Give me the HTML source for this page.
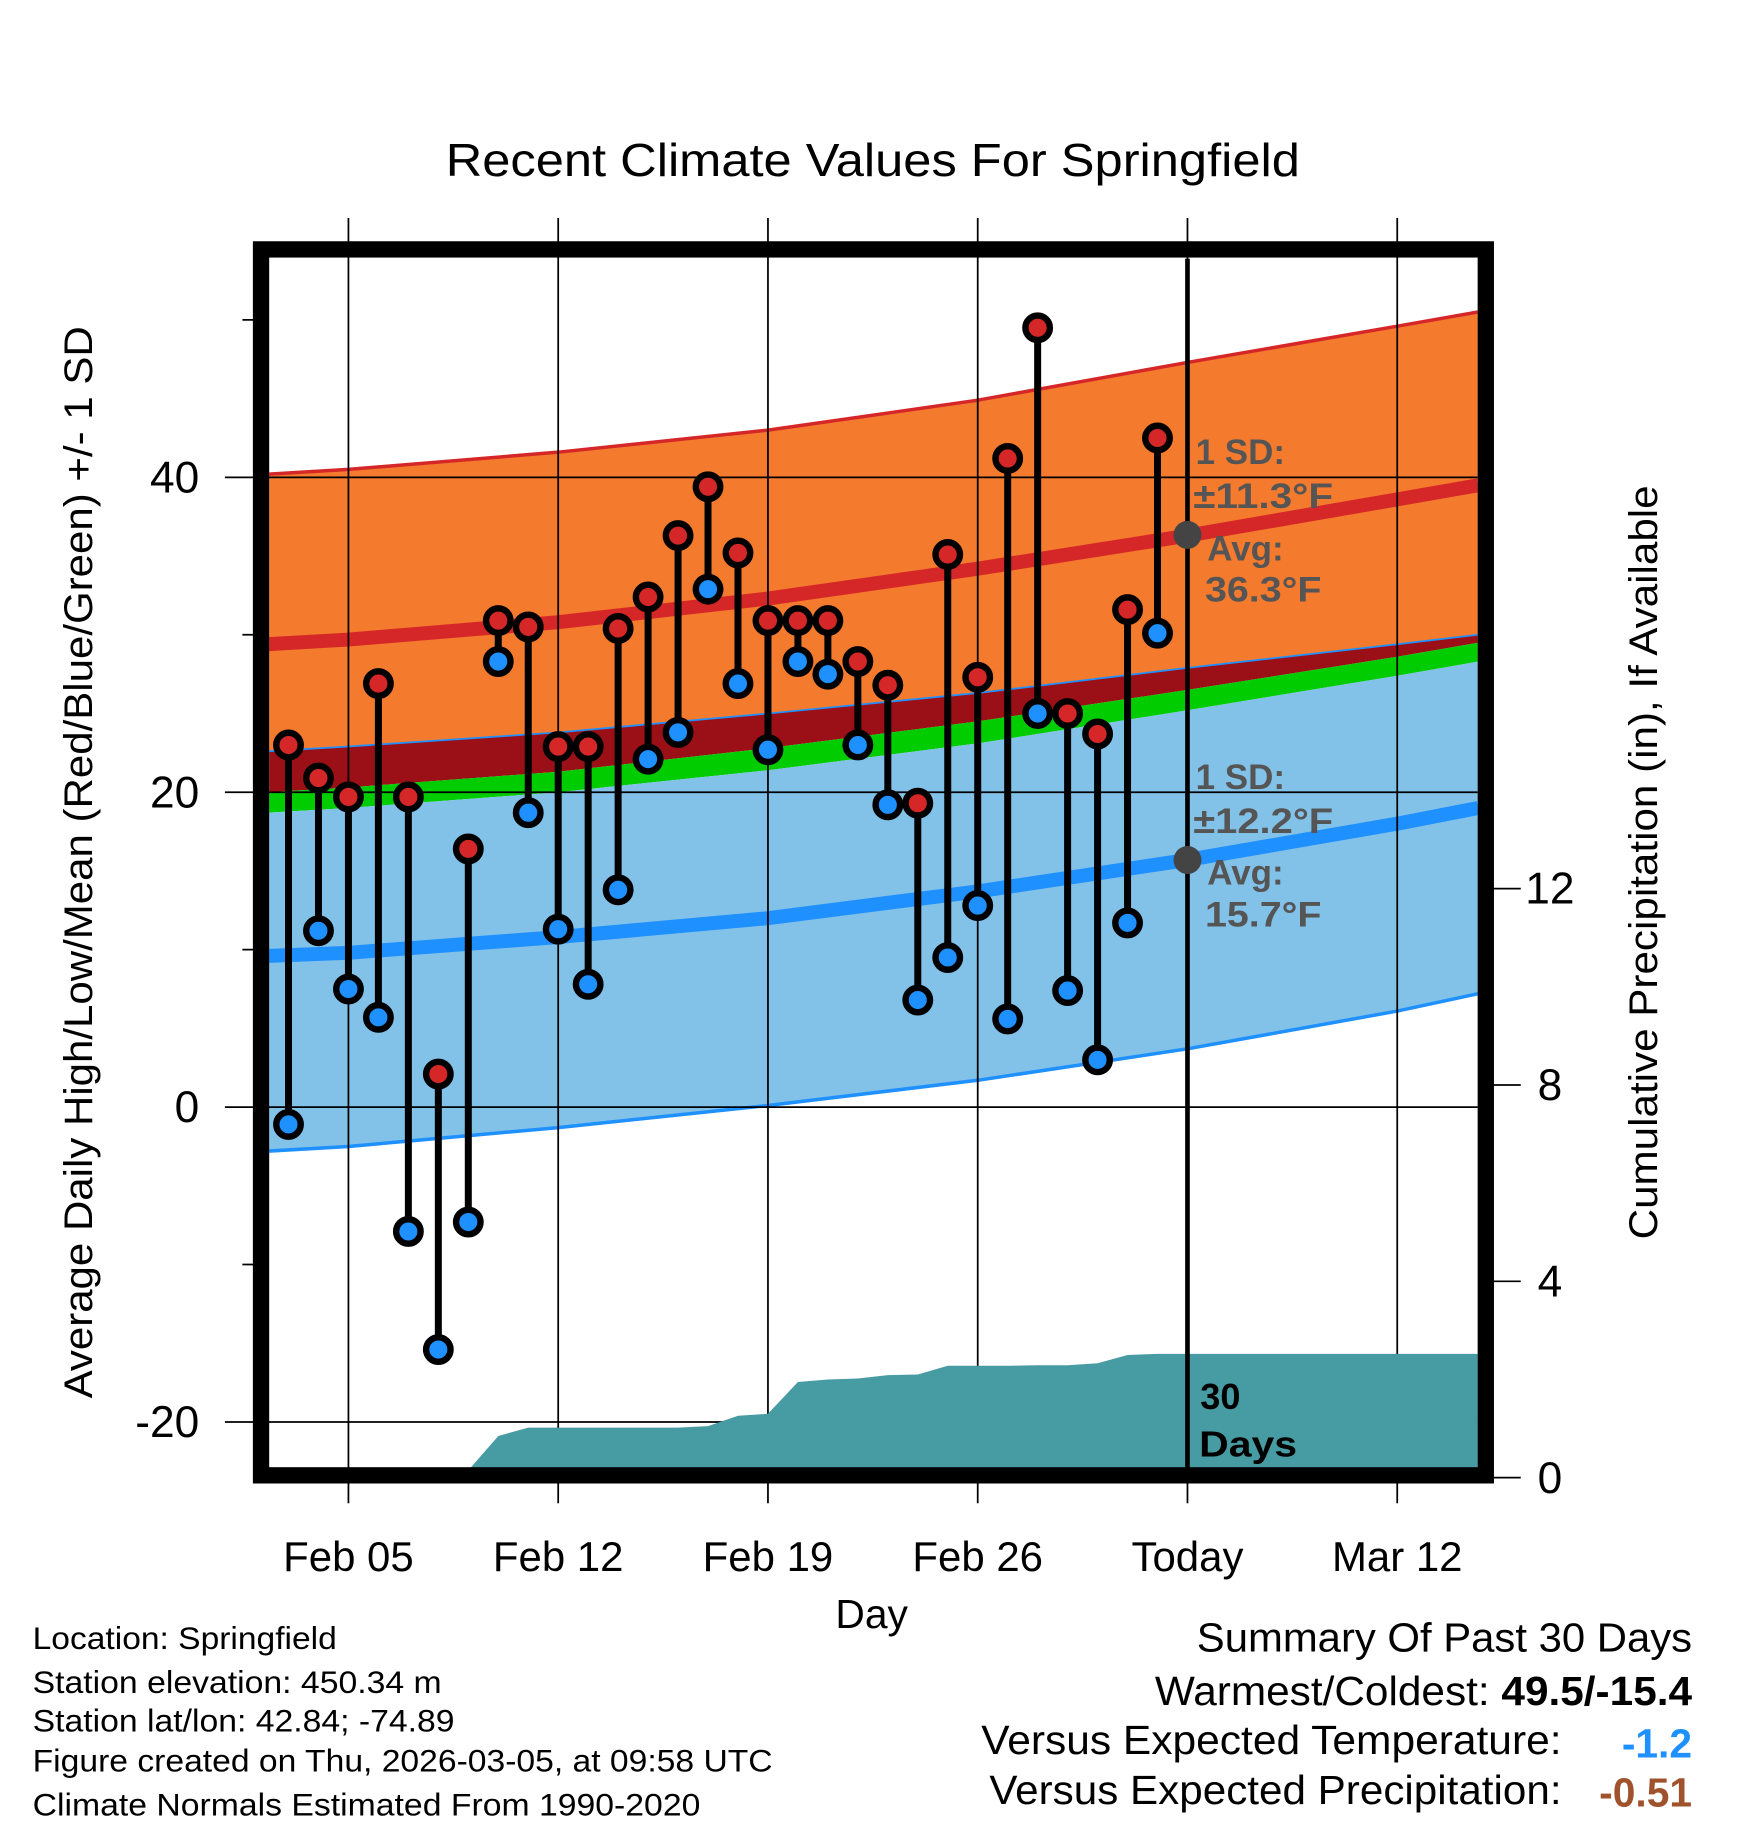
<!DOCTYPE html>
<html><head><meta charset="utf-8"><style>html,body{margin:0;padding:0;background:#fff}svg{display:block}text{font-family:"Liberation Sans",Arial,sans-serif}</style></head>
<body>
<svg id="chart" width="1748" height="1828" viewBox="0 0 1500 1568.6" xmlns="http://www.w3.org/2000/svg">
<defs><clipPath id="plotclip"><rect x="231" y="222" width="1037" height="1038"/></clipPath></defs>
<text x="749" y="151" font-size="40" text-anchor="middle" textLength="733" lengthAdjust="spacingAndGlyphs">Recent Climate Values For Springfield</text>
<g id="bands" clip-path="url(#plotclip)"></g>
<g id="grid"></g>
<g id="precip" clip-path="url(#plotclip)"></g>
<rect x="224" y="214" width="1051" height="1052" fill="none" stroke="#000" stroke-width="14"/>
<line x1="1019" y1="222" x2="1019" y2="1260" stroke="#000" stroke-width="4"/>
<g id="marks"></g>
<g font-weight="bold" font-size="30" fill="#555">
<text x="1026" y="398">1 SD:</text>
<text x="1024" y="436" textLength="120" lengthAdjust="spacingAndGlyphs">±11.3°F</text>
<text x="1036" y="481">Avg:</text>
<text x="1034" y="516" textLength="100" lengthAdjust="spacingAndGlyphs">36.3°F</text>
<text x="1026" y="677">1 SD:</text>
<text x="1024" y="715" textLength="120" lengthAdjust="spacingAndGlyphs">±12.2°F</text>
<text x="1036" y="759">Avg:</text>
<text x="1034" y="795" textLength="100" lengthAdjust="spacingAndGlyphs">15.7°F</text>
</g>
<circle cx="1019" cy="459" r="12" fill="#444"/>
<circle cx="1019" cy="738" r="12" fill="#444"/>
<text x="1030" y="1209" font-size="31" font-weight="bold">30</text>
<text x="1029" y="1250" font-size="31" font-weight="bold" textLength="84" lengthAdjust="spacingAndGlyphs">Days</text>
<text transform="translate(79,740) rotate(-90)" font-size="34" text-anchor="middle" textLength="920" lengthAdjust="spacingAndGlyphs">Average Daily High/Low/Mean (Red/Blue/Green) +/- 1 SD</text>
<text transform="translate(1422,740) rotate(-90)" font-size="34" text-anchor="middle" textLength="647" lengthAdjust="spacingAndGlyphs">Cumulative Precipitation (in), If Available</text>
<text x="748" y="1397" font-size="35" text-anchor="middle">Day</text>
<g font-size="27">
<text x="28" y="1415" textLength="261" lengthAdjust="spacingAndGlyphs">Location: Springfield</text>
<text x="28" y="1453" textLength="351" lengthAdjust="spacingAndGlyphs">Station elevation: 450.34 m</text>
<text x="28" y="1486" textLength="362" lengthAdjust="spacingAndGlyphs">Station lat/lon: 42.84; -74.89</text>
<text x="28" y="1520" textLength="635" lengthAdjust="spacingAndGlyphs">Figure created on Thu, 2026-03-05, at 09:58 UTC</text>
<text x="28" y="1558" textLength="573" lengthAdjust="spacingAndGlyphs">Climate Normals Estimated From 1990-2020</text>
</g>
<g font-size="35">
<text x="1452" y="1417" text-anchor="end" textLength="425" lengthAdjust="spacingAndGlyphs">Summary Of Past 30 Days</text>
<text x="1452" y="1463" text-anchor="end" textLength="461" lengthAdjust="spacingAndGlyphs">Warmest/Coldest: <tspan font-weight="bold">49.5/-15.4</tspan></text>
<text x="1340" y="1505" text-anchor="end" textLength="498" lengthAdjust="spacingAndGlyphs">Versus Expected Temperature:</text>
<text x="1452" y="1508" text-anchor="end" font-weight="bold" fill="#1e90ff">-1.2</text>
<text x="1340" y="1548" text-anchor="end" textLength="491" lengthAdjust="spacingAndGlyphs">Versus Expected Precipitation:</text>
<text x="1452" y="1550" text-anchor="end" font-weight="bold" fill="#a0522d">-0.51</text>
</g>
</svg>
<script>
const normDays=[2.3,5,12,19,26,33,40,42.7];
const hiUpper=[40.2,40.5,41.6,43.0,44.9,47.3,49.6,50.5];
const hiAvg=[29.4,29.7,30.8,32.3,34.2,36.3,38.6,39.5];
const darkTop=[22.6,22.9,23.8,25.0,26.3,27.9,29.4,30.0];
const greenTop=[20.0,20.3,21.3,22.8,24.5,26.5,28.6,29.5];
const blueTop=[18.7,19.0,20.0,21.4,23.1,25.2,27.4,28.3];
const loAvg=[9.6,9.8,10.8,12.0,13.7,15.7,18.0,19.0];
const loLower=[-2.8,-2.5,-1.3,0.1,1.7,3.7,6.1,7.2];
const days=[3,4,5,6,7,8,9,10,11,12,13,14,15,16,17,18,19,20,21,22,23,24,25,26,27,28,29,30,31,32];
const highs=[23.0,20.9,19.7,26.9,19.7,2.1,16.4,30.9,30.5,22.9,22.9,30.4,32.4,36.3,39.4,35.2,30.9,30.9,30.9,28.3,26.8,19.3,35.1,27.3,41.2,49.5,25.0,23.7,31.6,42.5];
const lows=[-1.1,11.2,7.5,5.7,-7.9,-15.4,-7.3,28.3,18.7,11.3,7.8,13.8,22.1,23.8,32.9,26.9,22.7,28.3,27.5,23.0,19.2,6.8,9.5,12.8,5.6,25.0,7.4,3.0,11.7,30.1];
const precipDays=[8,9,10,11,12,13,14,15,16,17,18,19,20,21,22,23,24,25,26,27,28,29,30,31,32,43];
const precipVals=[0,0.15,0.85,1.02,1.02,1.02,1.02,1.02,1.02,1.05,1.26,1.3,1.95,2.0,2.02,2.09,2.1,2.28,2.28,2.28,2.29,2.29,2.33,2.5,2.52,2.52];
const yTicks=[40,20,0,-20];
const yMinor=[50,30,10,-10];
const y2Ticks=[0,4,8,12];
const xTickDays=[5,12,19,26,33,40];
const xTickLabels=["Feb 05","Feb 12","Feb 19","Feb 26","Today","Mar 12"];

const NS="http://www.w3.org/2000/svg";
const X=d=>299+(d-5)*180/7;
const Y=v=>950-v*13.51;
const Y2=p=>1268-p*42.125;
function mk(tag,attrs,parent){const e=document.createElementNS(NS,tag);for(const k in attrs)e.setAttribute(k,attrs[k]);parent.appendChild(e);return e;}
const pts=(arr)=>normDays.map((d,i)=>X(d).toFixed(1)+","+Y(arr[i]).toFixed(1));
const bands=document.getElementById('bands');
function band(top,bot,fill,name){
  const p=mk('polygon',{points:pts(top).concat(pts(bot).reverse()).join(' '),fill:fill},bands);
  
  
}
band(hiUpper,darkTop,'#f47a2e','high-sd-band');
band(darkTop,greenTop,'#9a1016','overlap-band');
band(greenTop,blueTop,'#00cc00','mean-band');
band(blueTop,loLower,'#82c1e8','low-sd-band');
function line(arr,col,w,name){
  const l=mk('polyline',{points:pts(arr).join(' '),fill:'none',stroke:col,'stroke-width':w},bands);
  
  
}
line(hiUpper,'#d62728',3,'high-upper-line');
line(loLower,'#1e90ff',3,'low-lower-line');
line(darkTop,'#1e90ff',1.5,'low-upper-line');
line(hiAvg,'#d62728',12,'high-avg-line');
line(loAvg,'#1e90ff',12,'low-avg-line');

const grid=document.getElementById('grid');
xTickDays.forEach((d,i)=>{
  const g=mk('line',{x1:X(d),x2:X(d),y1:187,y2:1290,stroke:'#000','stroke-width':1.5},grid);
  
  
  const t=mk('text',{x:X(d),y:1348,'font-size':36,'text-anchor':'middle'},grid);
  t.textContent=xTickLabels[i];
  
  
});
yTicks.forEach(v=>{
  const g=mk('line',{x1:193,x2:1268,y1:Y(v),y2:Y(v),stroke:'#000','stroke-width':1.5},grid);
  
  
  const t=mk('text',{x:171,y:Y(v)+13,'font-size':38,'text-anchor':'end'},grid);
  t.textContent=v;
  
  
});
yMinor.forEach(v=>{
  const g=mk('line',{x1:208,x2:224,y1:Y(v),y2:Y(v),stroke:'#000','stroke-width':1.5},grid);
  
  
});
y2Ticks.forEach(p=>{
  const g=mk('line',{x1:1275,x2:1305,y1:Y2(p),y2:Y2(p),stroke:'#000','stroke-width':1.5},grid);
  
  
  const t=mk('text',{x:1330,y:Y2(p)+13,'font-size':38,'text-anchor':'middle'},grid);
  t.textContent=p;
  
  
});

const pr=document.getElementById('precip');
const pp=precipDays.map((d,i)=>X(d).toFixed(1)+","+Y2(precipVals[i]).toFixed(1));
pp.push(X(precipDays[precipDays.length-1]).toFixed(1)+",1300",X(precipDays[0]).toFixed(1)+",1300");
const pa=mk('polygon',{points:pp.join(' '),fill:'#479ba3'},pr);



const marks=document.getElementById('marks');
days.forEach((d,i)=>{
  const s=mk('line',{x1:X(d),x2:X(d),y1:Y(highs[i]),y2:Y(lows[i]),stroke:'#000','stroke-width':6},marks);
  
  
});
days.forEach((d,i)=>{
  const h=mk('circle',{cx:X(d),cy:Y(highs[i]),r:10.5,fill:'#d62728',stroke:'#000','stroke-width':5.5},marks);
  
  
  const l=mk('circle',{cx:X(d),cy:Y(lows[i]),r:10.5,fill:'#1e90ff',stroke:'#000','stroke-width':5.5},marks);
  
  
});
</script>
</body></html>
